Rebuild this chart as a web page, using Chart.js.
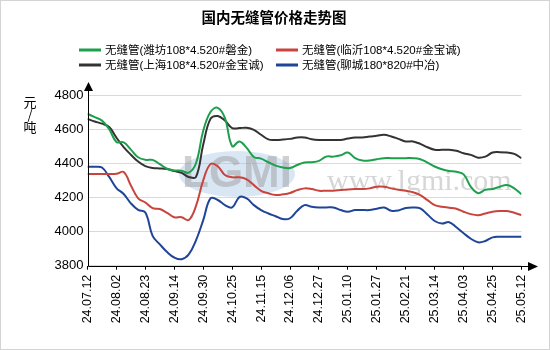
<!DOCTYPE html>
<html>
<head>
<meta charset="utf-8">
<script src="https://cdn.jsdelivr.net/npm/chart.js@4/dist/chart.umd.min.js"></script>
<style>
  html, body { margin: 0; padding: 0; background: #fff; }
  #wrap { width: 550px; height: 350px; position: relative; }
</style>
</head>
<body>
<div id="wrap"><canvas id="priceChart" width="550" height="350"></canvas></div>
<script>
// tick labels on the x axis, one every 4 points
const tickLabels = [
  "24.07.12", "24.08.02", "24.08.23", "24.09.14", "24.09.30", "24.10.25",
  "24.11.15", "24.12.06", "24.12.27", "25.01.10", "25.01.27", "25.02.21",
  "25.03.14", "25.04.03", "25.04.25", "25.05.12"
];
const pointsPerTick = 4;

const seriesNames = [
  "无缝管(潍坊108*4.520#磐金)",
  "无缝管(临沂108*4.520#金宝诚)",
  "无缝管(上海108*4.520#金宝诚)",
  "无缝管(聊城180*820#中冶)"
];
const seriesColors = ["#1d9f4c", "#c8443d", "#333333", "#1f4597"];

// prices, yuan/ton
const weifang = [
  4690, 4670, 4650, 4600, 4525, 4522, 4480, 4435, 4420, 4420, 4395, 4368, 4358, 4356, 4345,
  4400, 4590, 4700, 4725, 4665, 4500, 4527, 4490, 4437, 4427, 4406, 4386, 4375, 4372,
  4390, 4404, 4406, 4414, 4439, 4439, 4447, 4463, 4430, 4416, 4416, 4424, 4430, 4430,
  4430, 4430, 4430, 4424, 4404, 4381, 4365, 4355, 4350, 4335, 4262, 4225, 4245, 4249, 4263, 4273, 4253, 4218
];
const linyi = [
  4337, 4337, 4337, 4337, 4338, 4349, 4270, 4195, 4170, 4137, 4132, 4110, 4084, 4084, 4068,
  4150, 4300, 4395, 4383, 4331, 4318, 4318, 4306, 4272, 4239, 4224, 4214, 4218, 4226,
  4243, 4253, 4249, 4239, 4239, 4239, 4243, 4247, 4249, 4249, 4253, 4263, 4263, 4253,
  4245, 4239, 4230, 4214, 4184, 4155, 4145, 4140, 4134, 4116, 4102, 4096, 4106, 4116, 4120, 4120, 4110, 4096
];
const shanghai = [
  4660, 4645, 4632, 4612, 4550, 4495, 4450, 4410, 4383, 4372, 4370, 4366, 4354, 4344, 4320,
  4320, 4510, 4660, 4677, 4650, 4606, 4606, 4608, 4596, 4567, 4540, 4537, 4539, 4543,
  4551, 4551, 4541, 4537, 4537, 4537, 4537, 4545, 4551, 4551, 4557, 4561, 4567, 4557,
  4543, 4528, 4528, 4514, 4494, 4479, 4479, 4479, 4473, 4459, 4449, 4433, 4439, 4463, 4465, 4463, 4455, 4430
];
const liaocheng = [
  4380, 4380, 4375, 4320, 4255, 4220, 4165, 4127, 4112, 3975, 3925, 3880, 3848, 3838, 3866,
  3949, 4067, 4194, 4185, 4155, 4141, 4202, 4194, 4155, 4126, 4106, 4090, 4073, 4078,
  4122, 4155, 4145, 4141, 4141, 4141, 4126, 4116, 4126, 4126, 4126, 4134, 4141, 4122,
  4124, 4138, 4141, 4136, 4100, 4062, 4047, 4055, 4025, 3990, 3958, 3937, 3945, 3966, 3969, 3969, 3969, 3969
];

const yMin = 3800, yMax = 4800, yStep = 200;
const latinFont = "'Liberation Sans', Arial, 'Noto Sans CJK SC', sans-serif";

const toPoints = (arr) => arr.map((v, i) => ({ x: i, y: v }));
const allSeries = [weifang, linyi, shanghai, liaocheng];

// title, legend, axes with arrows, watermark, frame
const decorPlugin = {
  id: "decor",
  beforeDatasetsDraw(chart) {
    const ctx = chart.ctx;
    ctx.save();
    // faint LGMI logo
    ctx.fillStyle = "rgba(170,200,230,0.45)";
    ctx.beginPath();
    ctx.ellipse(237, 174, 58, 23, 0, 0, Math.PI * 2);
    ctx.fill();
    ctx.fillStyle = "rgba(150,150,150,0.45)";
    ctx.font = "bold 44px 'Liberation Sans', Arial";
    ctx.textAlign = "center";
    ctx.textBaseline = "middle";
    ctx.fillText("LGMI", 237, 175);
    ctx.fillStyle = "rgba(120,120,120,0.3)";
    ctx.font = "30px 'Liberation Serif', serif";
    ctx.textAlign = "left";
    ctx.textBaseline = "alphabetic";
    ctx.fillText("www.lgmi.com", 327, 190);
    ctx.restore();
  },
  afterDraw(chart) {
    const ctx = chart.ctx;
    const a = chart.chartArea;
    ctx.save();
    // frame
    ctx.strokeStyle = "#d4d4d4";
    ctx.lineWidth = 1;
    ctx.strokeRect(0.5, 0.5, 549, 349);

    // title
    ctx.fillStyle = "#000";
    ctx.font = "bold 14.5px 'Noto Sans CJK SC', sans-serif";
    ctx.textAlign = "center";
    ctx.textBaseline = "middle";
    ctx.fillText("国内无缝管价格走势图", 274, 17);

    // legend, two columns
    const cols = [79, 276];
    const rows = [50, 65];
    ctx.font = "11.5px " + latinFont;
    ctx.textAlign = "left";
    chart.data.datasets.forEach((ds, i) => {
      const x = cols[i % 2];
      const y = rows[Math.floor(i / 2)];
      ctx.strokeStyle = ds.borderColor;
      ctx.lineWidth = 3;
      ctx.beginPath();
      ctx.moveTo(x, y);
      ctx.lineTo(x + 22, y);
      ctx.stroke();
      ctx.fillStyle = "#000";
      ctx.fillText(ds.label, x + 26, y + 1);
    });

    // y axis unit
    ctx.font = "13px 'Noto Sans CJK SC', sans-serif";
    ctx.textAlign = "center";
    ctx.fillText("元", 30, 102);
    ctx.fillText("/", 30, 114);
    ctx.fillText("吨", 30, 127);

    // axes with arrows
    ctx.strokeStyle = "#000";
    ctx.fillStyle = "#000";
    ctx.lineWidth = 1;
    const x0 = Math.round(a.left) + 0.5;
    const y0 = Math.round(a.bottom) + 0.5;
    ctx.beginPath();
    ctx.moveTo(x0, y0);
    ctx.lineTo(x0, 90);
    ctx.moveTo(x0, y0);
    ctx.lineTo(529, y0);
    ctx.stroke();
    ctx.beginPath();
    ctx.moveTo(x0, 82);
    ctx.lineTo(x0 - 4.5, 91);
    ctx.lineTo(x0 + 4.5, 91);
    ctx.closePath();
    ctx.fill();
    ctx.beginPath();
    ctx.moveTo(538, y0);
    ctx.lineTo(528, y0 - 4.5);
    ctx.lineTo(528, y0 + 4.5);
    ctx.closePath();
    ctx.fill();
    ctx.restore();
  }
};

new Chart(document.getElementById("priceChart"), {
  type: "line",
  data: {
    datasets: allSeries.map((arr, i) => ({
      label: seriesNames[i],
      data: toPoints(arr),
      borderColor: seriesColors[i],
      backgroundColor: seriesColors[i],
      borderWidth: 2,
      pointRadius: 0,
      tension: 0.4,
      fill: false,
    })),
  },
  options: {
    responsive: false,
    animation: false,
    layout: { padding: { top: 95, right: 28.5, bottom: 0, left: 0 } },
    plugins: {
      legend: { display: false },
      title: { display: false },
      tooltip: { enabled: false },
    },
    scales: {
      x: {
        type: "linear",
        min: 0,
        max: (tickLabels.length - 1) * pointsPerTick,
        border: { display: false },
        grid: {
          drawOnChartArea: false,
          drawTicks: true,
          tickLength: 4,
          color: "#000",
        },
        ticks: {
          stepSize: pointsPerTick,
          autoSkip: false,
          maxRotation: 90,
          minRotation: 90,
          padding: 5,
          color: "#000",
          font: { family: latinFont, size: 12.5 },
          callback: (v) => tickLabels[v / pointsPerTick],
        },
        afterFit: (scale) => { scale.height = 84.3; },
      },
      y: {
        min: yMin,
        max: yMax,
        border: { display: false },
        grid: { color: "#d9d9d9", drawTicks: false },
        ticks: {
          stepSize: yStep,
          padding: 4,
          color: "#000",
          font: { family: latinFont, size: 13 },
          callback: (v) => String(v),
        },
        afterFit: (scale) => { scale.width = 87.5; },
      },
    },
  },
  plugins: [decorPlugin],
});
</script>
</body>
</html>
